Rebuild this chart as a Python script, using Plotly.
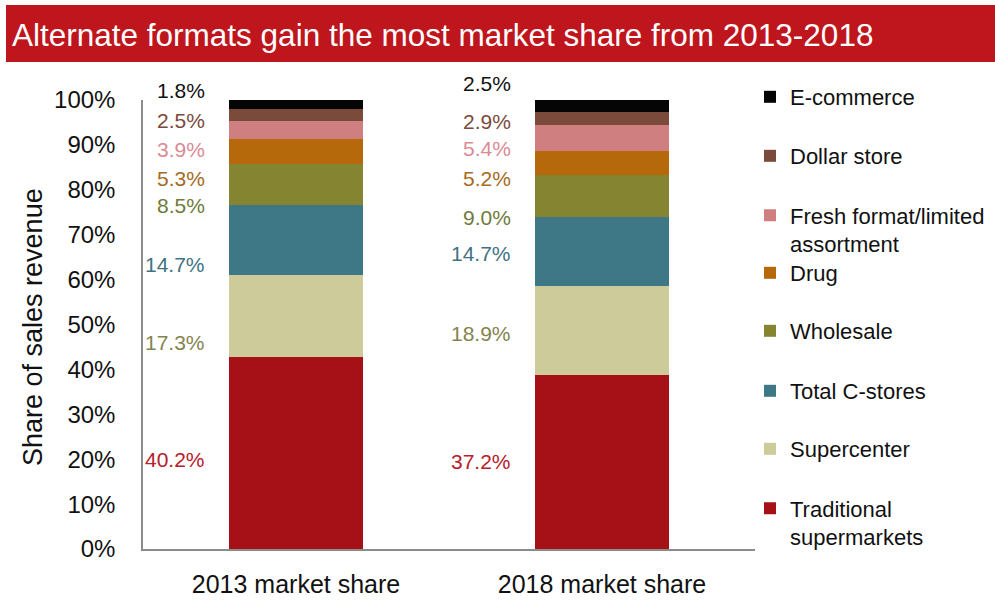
import plotly.graph_objects as go

# ---- data -------------------------------------------------------------
categories = ["2013 market share", "2018 market share"]
formats = [
    "Traditional supermarkets",
    "Supercenter",
    "Total C-stores",
    "Wholesale",
    "Drug",
    "Fresh format/limited assortment",
    "Dollar store",
    "E-commerce",
]
share_2013 = [40.2, 17.3, 14.7, 8.5, 5.3, 3.9, 2.5, 1.8]
share_2018 = [37.2, 18.9, 14.7, 9.0, 5.2, 5.4, 2.9, 2.5]
legend_names = [
    "Traditional<br>supermarkets",
    "Supercenter",
    "Total C-stores",
    "Wholesale",
    "Drug",
    "Fresh format/limited<br>assortment",
    "Dollar store",
    "E-commerce",
]
y_ticks = list(range(0, 101, 10))
y_tick_text = [f"{v}%" for v in y_ticks]

# ---- styling ----------------------------------------------------------
bar_colors = ["#A61117", "#CDCB9A", "#3E7887", "#858430",
              "#B6690B", "#CF7F80", "#7A4A3B", "#050505"]
label_colors = ["#B5202A", "#84844E", "#3F7282", "#6F7A3A",
                "#A66A22", "#DB8A95", "#7A4A3C", "#111111"]
# vertical placement (share of axis height, 0-100) of the value labels
label_y_2013 = [20.0, 45.9, 63.3, 76.6, 82.6, 88.9, 95.5, 102.2]
label_y_2018 = [19.4, 48.1, 65.9, 73.9, 82.6, 89.3, 95.3, 103.6]
# legend rows: pixel y of first text line
legend_rows_px = [508, 449, 391, 331, 273, 215, 156, 97]

W, H = 995, 602
M_L, M_R, M_T, M_B = 143, 240, 100, 53
PW, PH = W - M_L - M_R, H - M_T - M_B

FONT = "Liberation Sans, Arial, sans-serif"


def px_x(p):
    return (p - M_L) / PW


def px_y(p):
    return (H - M_B - p) / PH


fig = go.Figure()
for i, name in enumerate(formats):
    fig.add_trace(go.Bar(
        x=categories,
        y=[share_2013[i], share_2018[i]],
        name=legend_names[i],
        marker=dict(color=bar_colors[i], line=dict(width=0)),
        width=0.435,
        legend="legend" if i == 0 else f"legend{i + 1}",
        hovertemplate=name + ": %{y:.1f}%<extra></extra>",
    ))

annotations = []
for series, ys, cx in ((share_2013, label_y_2013, 0), (share_2018, label_y_2018, 1)):
    for i, v in enumerate(series):
        annotations.append(dict(
            x=cx - 0.29, y=ys[i] / 100, xref="x", yref="paper",
            text=f"{v:.1f}%", showarrow=False, xanchor="right", yanchor="middle",
            font=dict(family=FONT, size=21, color=label_colors[i]),
        ))

# chart title on a red banner
annotations.append(dict(
    x=px_x(10), y=px_y(35), xref="paper", yref="paper",
    text="Alternate formats gain the most market share from 2013-2018",
    showarrow=False, xanchor="left", yanchor="middle",
    font=dict(family=FONT, size=31.5, color="white"),
))
# y-axis title
annotations.append(dict(
    x=px_x(33), y=px_y(327), xref="paper", yref="paper",
    text="Share of sales revenue", textangle=-90, showarrow=False,
    xanchor="center", yanchor="middle",
    font=dict(family=FONT, size=27, color="#111111"),
))

shapes = [dict(
    type="rect", xref="paper", yref="paper",
    x0=px_x(6), x1=px_x(995), y0=px_y(62), y1=px_y(5),
    fillcolor="#BF151D", line=dict(width=0), layer="below",
)]

layout_legends = {}
for i, row in enumerate(legend_rows_px):
    key = "legend" if i == 0 else f"legend{i + 1}"
    two_lines = "<br>" in legend_names[i]
    layout_legends[key] = dict(
        x=px_x(750), y=px_y(row + (15 if two_lines else 0)),
        xanchor="left", yanchor="middle",
        bgcolor="rgba(0,0,0,0)", borderwidth=0,
        font=dict(family=FONT, size=22, color="#111111"),
        valign="top", itemwidth=30, tracegroupgap=0,
        itemclick=False, itemdoubleclick=False,
    )

fig.update_layout(
    width=W, height=H,
    margin=dict(l=M_L, r=M_R, t=M_T, b=M_B, autoexpand=False),
    barmode="stack", barnorm="percent",
    paper_bgcolor="white", plot_bgcolor="white",
    showlegend=True,
    xaxis=dict(
        type="category", range=[-0.5, 1.5],
        showline=True, linecolor="#8C8C8C", linewidth=1.5,
        showgrid=False, zeroline=False, ticks="",
        ticklabelstandoff=12,
        tickfont=dict(family=FONT, size=25, color="#111111"),
    ),
    yaxis=dict(
        range=[0, 100], tickmode="array", tickvals=y_ticks, ticktext=y_tick_text,
        showline=True, linecolor="#8C8C8C", linewidth=1.5,
        showgrid=False, zeroline=False, ticks="",
        ticklabelstandoff=21,
        tickfont=dict(family=FONT, size=24, color="#111111"),
    ),
    annotations=annotations,
    shapes=shapes,
    **layout_legends,
)

fig.write_html("out.html")
